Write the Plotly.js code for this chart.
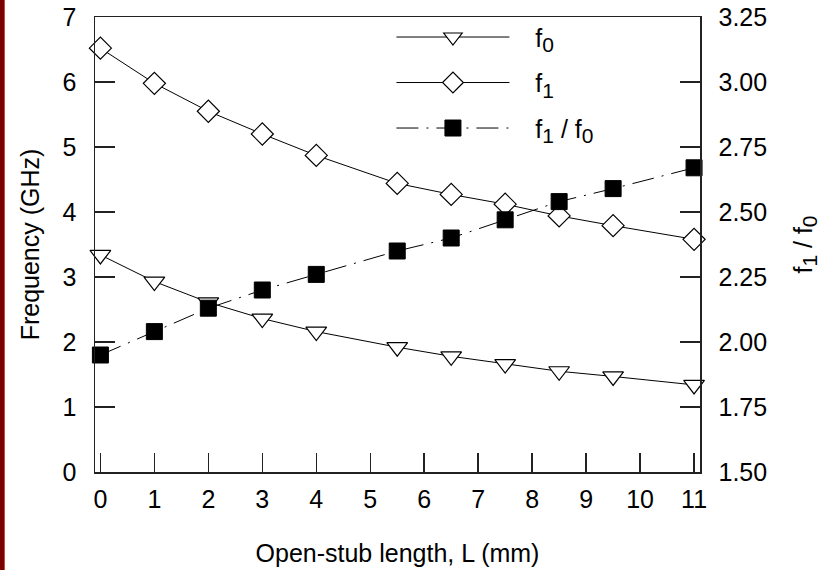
<!DOCTYPE html>
<html>
<head>
<meta charset="utf-8">
<script src="https://cdn.plot.ly/plotly-3.0.1.min.js"></script>
<style>
  html, body { margin:0; padding:0; background:#fff; }
  #wrap { position:relative; width:836px; height:570px; }
  #strip { position:absolute; left:0; top:0; width:4px; height:570px; background:#7d0000; border-right:1px solid #c05050; z-index:5; }
  #chart { position:absolute; left:0; top:0; width:836px; height:570px; }
</style>
</head>
<body>
<div id="wrap">
  <div id="chart"></div>
  <div id="strip"></div>
</div>
<script>
// Open-stub length L (mm)
var stubLength = [0, 1, 2, 3, 4, 5.5, 6.5, 7.5, 8.5, 9.5, 11];
// Frequency f0 (GHz)
var f0 = [3.34, 2.93, 2.61, 2.36, 2.16, 1.92, 1.78, 1.66, 1.55, 1.47, 1.34];
// Frequency f1 (GHz)
var f1 = [6.52, 5.98, 5.55, 5.20, 4.87, 4.44, 4.27, 4.12, 3.94, 3.79, 3.58];
// Ratio f1 / f0
var ratio = [1.95, 2.04, 2.13, 2.20, 2.26, 2.35, 2.40, 2.47, 2.54, 2.59, 2.67];

var xTicks = [0, 1, 2, 3, 4, 5, 6, 7, 8, 9, 10, 11];
var yTicks = [0, 1, 2, 3, 4, 5, 6, 7];
var y2Ticks = [1.50, 1.75, 2.00, 2.25, 2.50, 2.75, 3.00, 3.25];

function sub(t) { return '<sub><span style="font-size:21px">' + t + '</span></sub>'; }
var gap = '&nbsp;&nbsp;&nbsp;';
var names = [gap + 'f' + sub('0'), gap + 'f' + sub('1'), gap + 'f' + sub('1') + ' / f' + sub('0')];
var ratioTitle = 'f' + sub('1') + ' / f' + sub('0');

var FONT = 'Liberation Sans, Arial, Helvetica, sans-serif';

var traces = [
  {
    x: stubLength, y: f0, name: names[0], type: 'scatter', mode: 'lines+markers',
    line: {color: '#000', width: 1},
    marker: {symbol: 'triangle-down', size: 18, color: '#fff', line: {color: '#000', width: 1.2}},
    cliponaxis: false, legendgroup: 'a'
  },
  {
    x: stubLength, y: f1, name: names[1], type: 'scatter', mode: 'lines+markers',
    line: {color: '#000', width: 1},
    marker: {symbol: 'diamond', size: 17, color: '#fff', line: {color: '#000', width: 1.2}},
    cliponaxis: false, legendgroup: 'b'
  },
  {
    x: stubLength, y: ratio, name: names[2], type: 'scatter', mode: 'lines+markers',
    yaxis: 'y2',
    line: {color: '#000', width: 1, dash: '22px,8px,2px,8px'},
    marker: {symbol: 'square', size: 16, color: '#000', line: {color: '#000', width: 1}},
    cliponaxis: false, legendgroup: 'c'
  }
];

var axisCommon = {
  showline: true, linecolor: '#222', linewidth: 1.5,
  ticks: 'inside', tickcolor: '#222', tickwidth: 1.5,
  showgrid: false, zeroline: false,
  tickfont: {family: FONT, size: 25, color: '#000'}
};

var layout = {
  width: 836, height: 570,
  margin: {l: 95, r: 136, t: 17, b: 98, pad: 0},
  paper_bgcolor: '#fff', plot_bgcolor: '#fff',
  font: {family: FONT, size: 25, color: '#000'},
  showlegend: true,
  legend: {
    x: 0.49, y: 1.006, xanchor: 'left', yanchor: 'top',
    bgcolor: 'rgba(0,0,0,0)', borderwidth: 0,
    itemwidth: 113, tracegroupgap: 10,
    font: {family: FONT, size: 25, color: '#000'}
  },
  xaxis: Object.assign({}, axisCommon, {
    range: [-0.1, 11.11],
    tickmode: 'array', tickvals: xTicks, ticktext: xTicks.map(String),
    ticklen: 19, mirror: true, ticklabelstandoff: 4,
    title: {text: 'Open-stub length, L (mm)', font: {family: FONT, size: 25, color: '#000'}, standoff: 33}
  }),
  yaxis: Object.assign({}, axisCommon, {
    range: [0, 7],
    tickmode: 'array', tickvals: yTicks, ticktext: yTicks.map(String),
    ticklen: 20, ticklabelstandoff: 12,
    title: {text: 'Frequency (GHz)', font: {family: FONT, size: 25, color: '#000'}, standoff: 16}
  }),
  yaxis2: Object.assign({}, axisCommon, {
    range: [1.5, 3.25], overlaying: 'y', side: 'right',
    tickmode: 'array', tickvals: y2Ticks, ticktext: y2Ticks.map(function(v){return v.toFixed(2);}),
    ticklen: 20, ticklabelstandoff: 12,
    title: {text: ratioTitle, font: {family: FONT, size: 25, color: '#000'}, standoff: 28}
  })
};

Plotly.newPlot('chart', traces, layout, {displayModeBar: false, staticPlot: true});
</script>
</body>
</html>
